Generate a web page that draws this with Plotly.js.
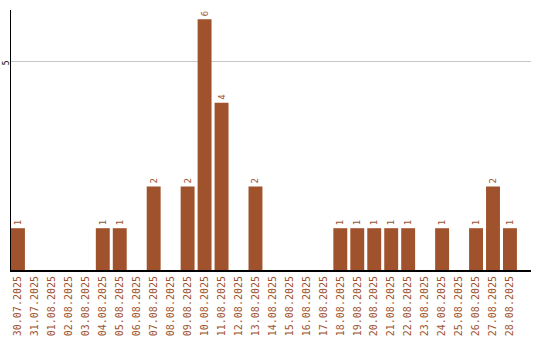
<!DOCTYPE html>
<html><head><meta charset="utf-8">
<script src="https://cdn.plot.ly/plotly-3.0.1.min.js"></script>
<style>html,body{margin:0;padding:0;background:#fff;}#c{width:540px;height:340px;}</style>
</head><body><div id="c"></div>
<script>
const dates = ["30.07.2025","31.07.2025","01.08.2025","02.08.2025","03.08.2025","04.08.2025","05.08.2025","06.08.2025","07.08.2025","08.08.2025","09.08.2025","10.08.2025","11.08.2025","12.08.2025","13.08.2025","14.08.2025","15.08.2025","16.08.2025","17.08.2025","18.08.2025","19.08.2025","20.08.2025","21.08.2025","22.08.2025","23.08.2025","24.08.2025","25.08.2025","26.08.2025","27.08.2025","28.08.2025"];
const counts = [1,0,0,0,0,1,1,0,2,0,2,6,4,0,2,0,0,0,0,1,1,1,1,1,0,1,0,1,2,1];
const labels = counts.map(v => v > 0 ? String(v) : "");
const yTicks = [5];

Plotly.newPlot('c', [{
  type: 'bar', x: dates, y: counts,
  marker: {color: '#a0522d'},
  text: labels, textposition: 'outside', textangle: -90,
  textfont: {family: 'DejaVu Sans Mono', size: 9, color: '#a0522d'},
  cliponaxis: false, hoverinfo: 'none'
}], {
  width: 540, height: 340,
  margin: {l: 11, r: 9, t: 10, b: 70},
  paper_bgcolor: '#fff', plot_bgcolor: '#fff',
  bargap: 0.18,
  showlegend: false,
  xaxis: {
    type: 'category', range: [-0.41, 30.24],
    tickangle: -90, ticks: '', showgrid: false,
    tickfont: {family: 'DejaVu Sans Mono', size: 10, color: '#a0522d'},
    showline: true, linecolor: '#000', linewidth: 2, zeroline: false
  },
  yaxis: {
    range: [0, 6.22], tickvals: yTicks, ticktext: yTicks.map(String),
    tickangle: -90, ticks: '', ticklabelshift: 3, ticklabelstandoff: -2,
    tickfont: {family: 'DejaVu Sans Mono', size: 8, color: '#000'},
    showgrid: true, gridcolor: '#c8c8c8', gridwidth: 1,
    showline: true, linecolor: '#000', linewidth: 1, zeroline: false
  }
}, {displayModeBar: false, staticPlot: true});
</script></body></html>
